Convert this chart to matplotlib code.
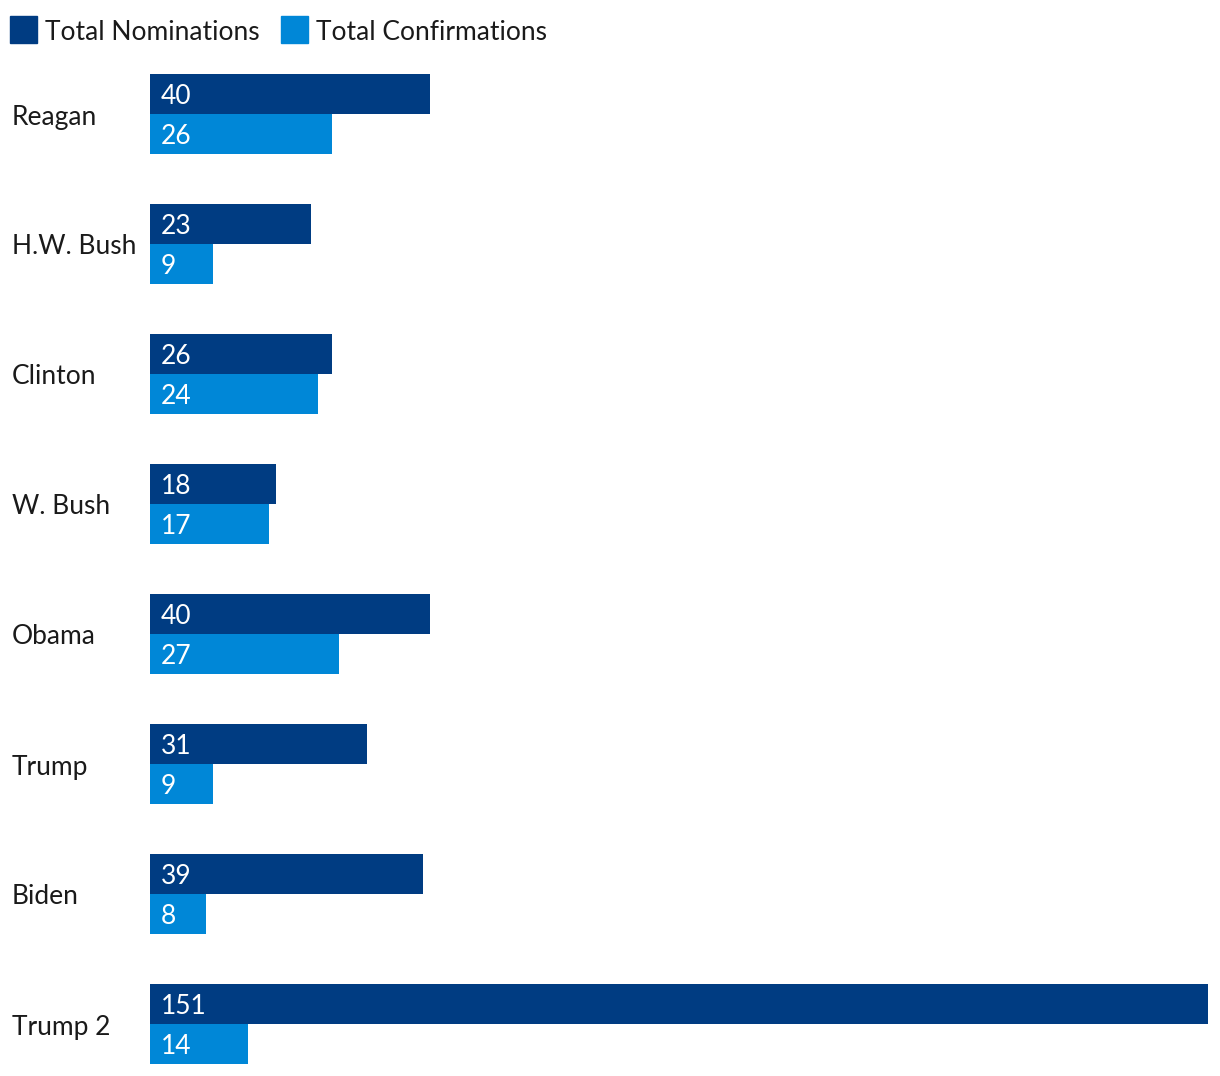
import numpy as np
import matplotlib.pyplot as plt
from matplotlib.patches import Rectangle

# Data
presidents = ['Reagan', 'H.W. Bush', 'Clinton', 'W. Bush', 'Obama', 'Trump', 'Biden', 'Trump 2']
nominations = [40, 23, 26, 18, 40, 31, 39, 151]
confirmations = [26, 9, 24, 17, 27, 9, 8, 14]

dark_blue = '#003c82'
light_blue = '#0087d7'
plt.rcParams['font.family'] = ['Lato', 'DejaVu Sans']

W, H = 1220, 1076
fig = plt.figure(figsize=(W / 100, H / 100), dpi=100)
fig.patch.set_facecolor('white')

# axes spans the bar area in pixels: x 150..1208, y 74..1064
ax = fig.add_axes([150 / W, 1 - 1064 / H, (1208 - 150) / W, (1064 - 74) / H])
bar_h = 40 / 130
idx = np.arange(len(presidents))
ax.barh(idx - bar_h / 2, nominations, height=bar_h, color=dark_blue)
ax.barh(idx + bar_h / 2, confirmations, height=bar_h, color=light_blue)
ax.set_xlim(0, max(nominations))
ax.set_ylim(len(presidents) - 1 + bar_h, -bar_h)
ax.axis('off')

fs = 19
dy = 3 / 130  # small nudge down so text sits like the original
for i in idx:
    ax.text(1.5, i - bar_h / 2 + dy, str(nominations[i]), color='white', fontsize=fs,
            va='center', ha='left')
    ax.text(1.5, i + bar_h / 2 + dy, str(confirmations[i]), color='white', fontsize=fs,
            va='center', ha='left')
    y_fig = 1 - (74 + 130 * i + 43) / H
    fig.text(12 / W, y_fig, presidents[i], fontsize=fs, color='#1a1a1a',
             va='center', ha='left')

# legend
fig.patches.append(Rectangle((10 / W, 1 - 43 / H), 27 / W, 27 / H, color=dark_blue,
                             transform=fig.transFigure, figure=fig))
fig.text(45 / W, 1 - 32 / H, 'Total Nominations', fontsize=fs, color='#1a1a1a',
         va='center', ha='left')
fig.patches.append(Rectangle((281 / W, 1 - 43 / H), 27 / W, 27 / H, color=light_blue,
                             transform=fig.transFigure, figure=fig))
fig.text(316 / W, 1 - 32 / H, 'Total Confirmations', fontsize=fs, color='#1a1a1a',
         va='center', ha='left')

fig.savefig('out.png', dpi=100)
